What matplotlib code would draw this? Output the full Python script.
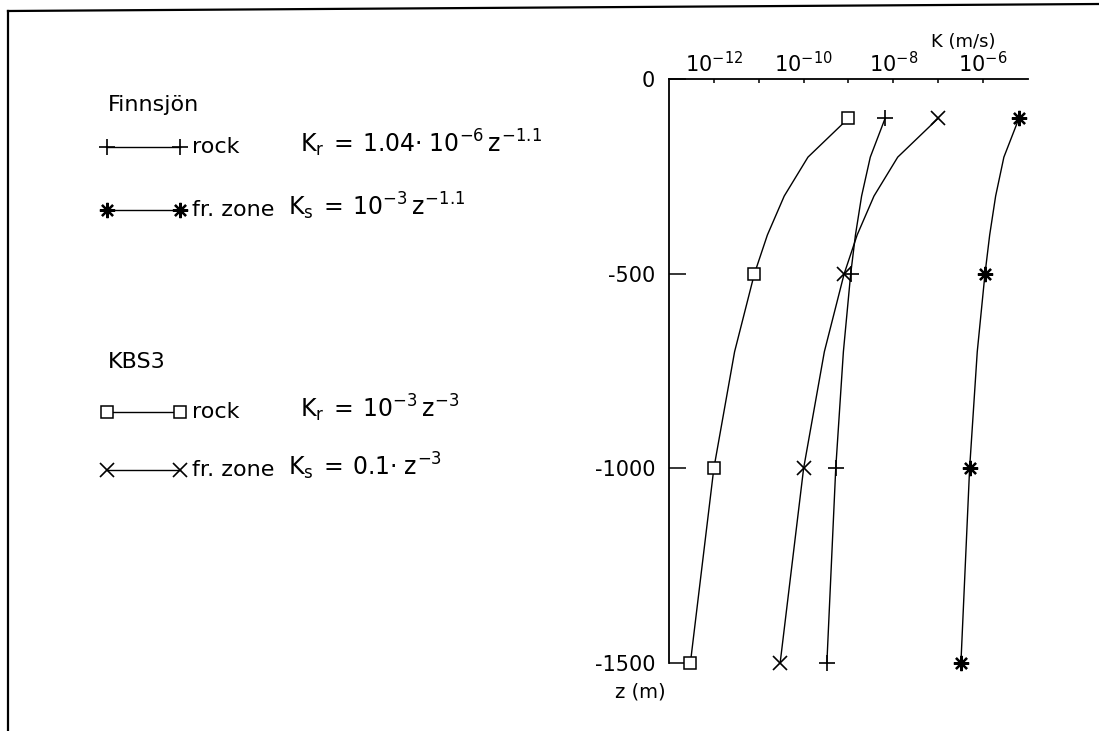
import matplotlib
matplotlib.use("Agg")
import matplotlib.pyplot as plt
from matplotlib.ticker import FixedLocator, FixedFormatter
from matplotlib.lines import Line2D

plt.rcParams['font.family'] = ['DejaVu Sans']
plt.rcParams['mathtext.fontset'] = 'custom'
plt.rcParams['mathtext.rm'] = 'DejaVu Sans'
plt.rcParams['mathtext.it'] = 'DejaVu Sans'
plt.rcParams['mathtext.bf'] = 'DejaVu Sans:bold'
plt.rcParams['axes.unicode_minus'] = False

# Depth below surface (m) at which conductivity is evaluated
depth = [100, 200, 300, 400, 500, 700, 1000, 1500]
marker_depths = [100, 500, 1000, 1500]

# Hydraulic conductivity K (m/s)
finnsjon_rock = [6.56e-9, 3.06e-9, 1.96e-9, 1.43e-9, 1.12e-9, 7.7e-10, 5.2e-10, 3.3e-10]
finnsjon_zone = [6.3e-6, 2.9e-6, 1.9e-6, 1.4e-6, 1.1e-6, 7.4e-7, 5.0e-7, 3.2e-7]
kbs3_rock = [1.0e-9, 1.25e-10, 3.7e-11, 1.56e-11, 8.0e-12, 2.9e-12, 1.0e-12, 3.0e-13]
kbs3_zone = [1.0e-7, 1.25e-8, 3.7e-9, 1.56e-9, 8.0e-10, 2.9e-10, 1.0e-10, 3.0e-11]

x_decades = [-12, -11, -10, -9, -8, -7, -6]
x_labels = ['$10^{-12}$', '', '$10^{-10}$', '', '$10^{-8}$', '', '$10^{-6}$']
y_ticks = [0, -500, -1000, -1500]
y_labels = ['0', '-500', '-1000', '-1500']

W, H = 1099, 731
fig = plt.figure(figsize=(W / 100, H / 100), dpi=100)

ax = fig.add_axes([0.6087, 0.0930, 0.3267, 0.7985])
ax.set_xscale('log')
ax.set_xlim(1e-13, 1e-5)
ax.set_ylim(-1500, 0)
ax.xaxis.tick_top()
ax.spines['right'].set_visible(False)
ax.spines['bottom'].set_visible(False)
for s in ('left', 'top'):
    ax.spines[s].set_linewidth(1.3)

ax.xaxis.set_major_locator(FixedLocator([10.0 ** d for d in x_decades]))
ax.xaxis.set_major_formatter(FixedFormatter(x_labels))
ax.xaxis.set_minor_locator(FixedLocator([]))
ax.tick_params(axis='x', which='major', direction='in', length=3, width=1.1,
               pad=2, labelsize=15)
ax.set_yticks(y_ticks)
ax.set_yticklabels(y_labels)
ax.tick_params(axis='y', direction='in', length=12, width=1.1, pad=10,
               labelsize=15)

mark_idx = [i for i, z in enumerate(depth) if z in marker_depths]
neg_depth = [-z for z in depth]

styles = [
    (finnsjon_rock, dict(marker='+', ms=11, mew=1.2)),
    (finnsjon_zone, dict(marker=(8, 2, 0), ms=11, mew=1.6)),
    (kbs3_rock, dict(marker='s', ms=9, mew=1.1, mfc='white')),
    (kbs3_zone, dict(marker='x', ms=9.5, mew=1.2)),
]
for values, st in styles:
    ax.plot(values, neg_depth, color='black', lw=1.0, markevery=mark_idx,
            clip_on=False, zorder=3, **st)

# Axis captions
fig.text(963 / W, 1 - 42 / H, 'K (m/s)', fontsize=13, ha='center', va='center')
fig.text(640 / W, 1 - 692 / H, 'z (m)', fontsize=14, ha='center', va='center')

# Key on the left, drawn in pixel coordinates of an overlay
key = fig.add_axes([0, 0, 1, 1], zorder=-1)
key.set_xlim(0, W)
key.set_ylim(H, 0)
key.axis('off')

# Page frame (left and top edges)
key.plot([8, 8], [11, H], color='black', lw=1.6)
key.plot([8, W], [11, 4], color='black', lw=1.6)

fs = 16
key.text(108, 105, 'Finnsjön', fontsize=fs, va='center', ha='left')
key.text(108, 362, 'KBS3', fontsize=fs, va='center', ha='left')

rows = [
    (147, styles[0][1], 'rock',
     r'$K_r\;=\,1.04{\cdot}\;10^{-6}\,z^{-1.1}$', 300),
    (210, styles[1][1], 'fr. zone',
     r'$K_s\;=\,10^{-3}\,z^{-1.1}$', 288),
    (412, styles[2][1], 'rock',
     r'$K_r\;=\,10^{-3}\,z^{-3}$', 300),
    (470, styles[3][1], 'fr. zone',
     r'$K_s\;=\,0.1{\cdot}\;z^{-3}$', 288),
]
for y, st, name, formula, fx in rows:
    key.add_line(Line2D([107, 180], [y, y], color='black', lw=1.0, **st))
    key.text(192, y, name, fontsize=fs, va='center', ha='left')
    key.text(fx, y - 4, formula, fontsize=fs + 1, va='center', ha='left')

fig.savefig('out.png', dpi=100, facecolor='white')
